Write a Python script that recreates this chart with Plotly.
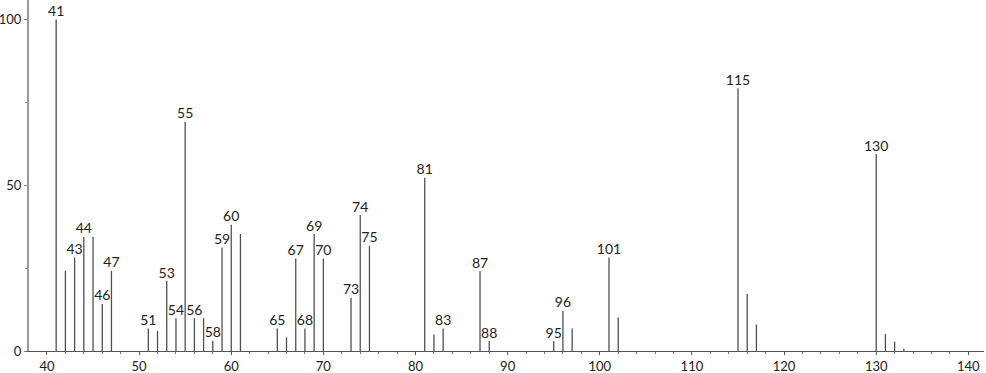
import plotly.graph_objects as go

# m/z values and relative intensities
mz = [41, 42, 43, 44, 45, 46, 47, 51, 52, 53, 54, 55, 56, 57, 58, 59, 60, 61,
      65, 66, 67, 68, 69, 70, 73, 74, 75, 81, 82, 83, 87, 88, 95, 96, 97,
      101, 102, 115, 116, 117, 130, 131, 132, 133]
intensity = [100, 24.2, 28.2, 34.4, 34.4, 14.2, 24.2, 6.8, 6.1, 21.1, 9.9, 69.2, 9.9, 9.9, 3.1, 31.2, 38.1, 35.3,
             6.8, 4.1, 27.9, 6.8, 35.3, 27.9, 16.1, 41.0, 31.8, 52.3, 5.0, 6.8, 24.1, 3.0, 3.0, 12.1, 6.8,
             28.2, 10.1, 79.3, 17.2, 8.0, 59.4, 5.1, 2.8, 0.7]
labeled = [41, 43, 44, 46, 47, 51, 53, 54, 55, 56, 58, 59, 60, 65, 67, 68, 69, 70,
           73, 74, 75, 81, 83, 87, 88, 95, 96, 101, 115, 130]

xs, ys = [], []
for m, v in zip(mz, intensity):
    xs += [m, m, None]
    ys += [0, v, None]

lab_x = [m for m in labeled]
lab_y = [intensity[mz.index(m)] for m in labeled]
lab_t = [str(m) for m in labeled]

FONT = "Lato, DejaVu Sans, sans-serif"

fig = go.Figure()
fig.add_trace(go.Scatter(x=xs, y=ys, mode="lines",
                         line=dict(color="#505050", width=1.3),
                         hoverinfo="skip", showlegend=False))
fig.add_trace(go.Scatter(x=lab_x, y=lab_y, mode="text", text=lab_t,
                         textposition="top center",
                         textfont=dict(family=FONT, size=14, color="#222"),
                         showlegend=False, cliponaxis=False))

fig.update_layout(
    width=986, height=373,
    margin=dict(l=29, r=2, t=0, b=22),
    paper_bgcolor="white", plot_bgcolor="white",
    font=dict(family=FONT, size=13, color="#222"),
    xaxis=dict(range=[38.05, 141.7], tickmode="array",
               tickvals=[40, 50, 60, 70, 80, 90, 100, 110, 120, 130, 140],
               showgrid=False, zeroline=False, automargin=False,
               showline=True, linecolor="#555", linewidth=1,
               ticks="outside", ticklen=3, tickcolor="#555",
               minor=dict(dtick=2, tick0=0, ticks="outside", ticklen=2, tickcolor="#777"),
               tickfont=dict(family=FONT, size=13, color="#222")),
    yaxis=dict(range=[0, 105.9], tickmode="array", tickvals=[0, 50, 100],
               showgrid=False, zeroline=False, automargin=False,
               showline=True, linecolor="#999", linewidth=2,
               ticks="outside", ticklen=3, tickcolor="#777",
               minor=dict(tickvals=[25, 75], ticks="outside", ticklen=2, tickcolor="#999"),
               tickfont=dict(family=FONT, size=13, color="#222")),
)

fig.write_html("out.html")
